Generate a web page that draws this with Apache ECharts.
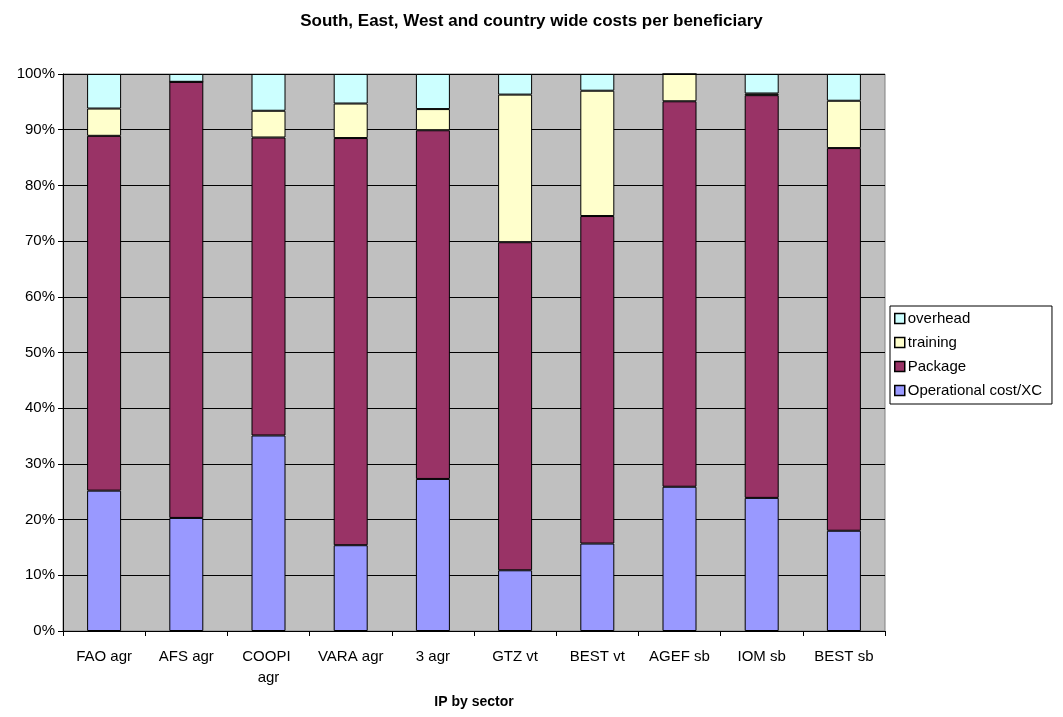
<!DOCTYPE html>
<html>
<head>
<meta charset="utf-8">
<script src="https://cdn.jsdelivr.net/npm/echarts@6/dist/echarts.min.js"></script>
<style>
  html, body { margin: 0; padding: 0; background: #ffffff; }
  #chart { width: 1063px; height: 717px; }
</style>
</head>
<body>
<div id="chart"></div>
<script>
// Implementing partners, grouped by sector
const categories = ['FAO agr', 'AFS agr', 'COOPI agr', 'VARA agr', '3 agr', 'GTZ vt', 'BEST vt', 'AGEF sb', 'IOM sb', 'BEST sb'];

// Share of the cost per beneficiary (%), stacked bottom to top
const operationalCost = [25.2, 20.3, 35.1, 15.4, 27.3, 10.9, 15.7, 25.9, 23.9, 18.0];
const packageCost     = [63.7, 78.3, 53.5, 73.1, 62.6, 58.9, 58.8, 69.2, 72.3, 68.7];
const trainingCost    = [4.9, 0.0, 4.8, 6.2, 3.8, 26.5, 22.5, 4.9, 0.3, 8.5];
const overheadCost    = [6.2, 1.4, 6.6, 5.3, 6.3, 3.7, 3.0, 0.0, 3.5, 4.8];

const yTicks = [0, 10, 20, 30, 40, 50, 60, 70, 80, 90, 100];

const FONT = '"Liberation Sans", Arial, sans-serif';

function barSeries(name, data, color) {
  return {
    name: name,
    type: 'bar',
    stack: 'cost',
    data: data,
    barWidth: 34,
    itemStyle: { color: color, borderColor: '#000000', borderWidth: 1 },
    emphasis: { disabled: true }
  };
}

const chart = echarts.init(document.getElementById('chart'), null, { renderer: 'canvas' });

chart.setOption({
  animation: false,
  backgroundColor: '#ffffff',
  textStyle: { fontFamily: FONT },
  title: {
    text: 'South, East, West and country wide costs per beneficiary',
    left: 'center',
    top: 8,
    textStyle: { fontFamily: FONT, fontSize: 17, fontWeight: 'bold', color: '#000000' }
  },
  legend: {
    orient: 'vertical',
    left: 890,
    top: 306,
    data: ['overhead', 'training', 'Package', 'Operational cost/XC'],
    icon: 'rect',
    itemWidth: 10,
    itemHeight: 10,
    itemGap: 9,
    padding: [5, 10, 6, 4],
    borderColor: '#000000',
    borderWidth: 1,
    borderRadius: 0,
    backgroundColor: '#ffffff',
    selectedMode: false,
    itemStyle: { borderColor: '#000000', borderWidth: 1.5 },
    textStyle: { fontFamily: FONT, fontSize: 15, color: '#000000', padding: [0, 0, 0, -2] }
  },
  grid: {
    left: 63,
    right: 178,
    top: 74,
    bottom: 86,
    show: true,
    backgroundColor: '#C0C0C0',
    borderColor: '#808080',
    borderWidth: 1
  },
  xAxis: {
    type: 'category',
    data: categories,
    name: 'IP by sector',
    nameLocation: 'middle',
    nameGap: 64,
    nameTextStyle: { fontFamily: FONT, fontSize: 14, fontWeight: 'bold', color: '#000000' },
    axisLine: { lineStyle: { color: '#000000', width: 1 } },
    axisTick: { show: true, alignWithLabel: false, length: 5, lineStyle: { color: '#000000' } },
    axisLabel: {
      interval: 0,
      margin: 15,
      fontFamily: FONT,
      fontSize: 15,
      color: '#000000',
      width: 70,
      overflow: 'break',
      lineHeight: 21
    },
    splitLine: { show: false }
  },
  yAxis: {
    type: 'value',
    min: yTicks[0],
    max: yTicks[yTicks.length - 1],
    interval: yTicks[1] - yTicks[0],
    axisLine: { show: true, lineStyle: { color: '#000000', width: 1 } },
    axisTick: { show: true, length: 5, lineStyle: { color: '#000000' } },
    axisLabel: {
      formatter: '{value}%',
      margin: 8,
      fontFamily: FONT,
      fontSize: 15,
      color: '#000000'
    },
    splitLine: { show: true, lineStyle: { color: '#000000', width: 1 } }
  },
  series: [
    barSeries('Operational cost/XC', operationalCost, '#9999FF'),
    barSeries('Package', packageCost, '#993366'),
    barSeries('training', trainingCost, '#FFFFCC'),
    barSeries('overhead', overheadCost, '#CCFFFF')
  ]
});
</script>
</body>
</html>
